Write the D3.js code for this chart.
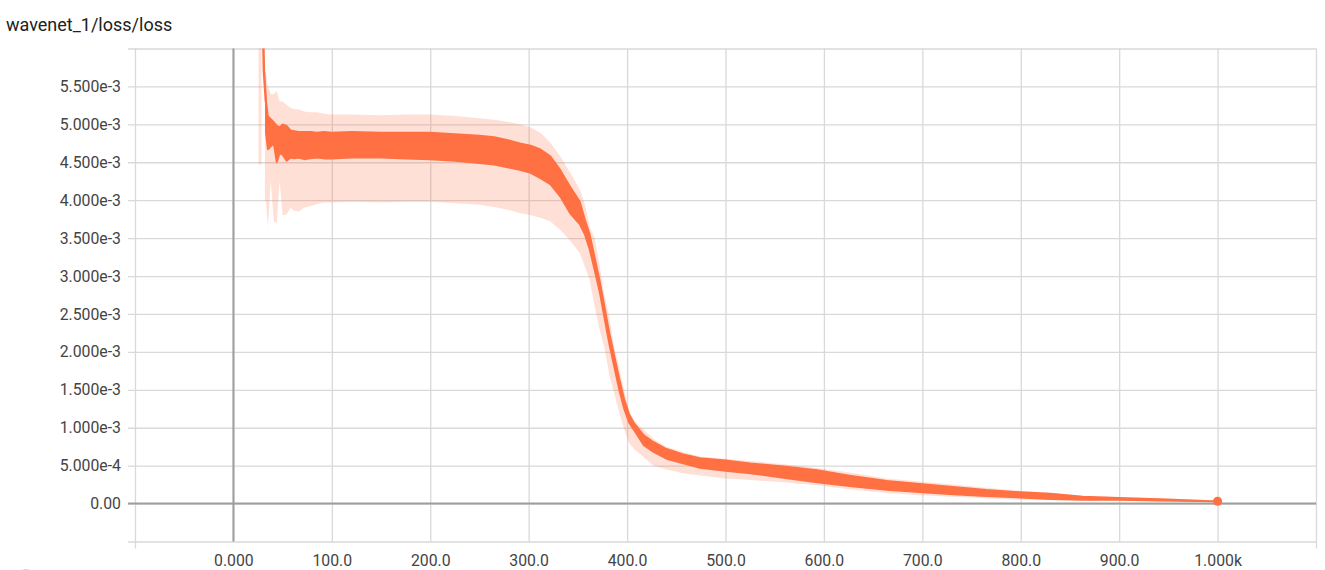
<!DOCTYPE html>
<html><head><meta charset="utf-8">
<script src="https://cdn.jsdelivr.net/npm/d3@7"></script>
<style>
html,body{margin:0;padding:0;background:#fff;overflow:hidden;}
svg{display:block;font-family:Roboto,"Noto Sans",sans-serif;}
</style></head><body>
<svg id="chart" width="1325" height="570"></svg>
<script>
// ---------- data ----------
const title = "wavenet_1/loss/loss";
const xTickValues = [0, 100, 200, 300, 400, 500, 600, 700, 800, 900, 1000];
const xTickLabels = ["0.000", "100.0", "200.0", "300.0", "400.0", "500.0", "600.0", "700.0", "800.0", "900.0", "1.000k"];
const xGridValues = [-100, 0, 100, 200, 300, 400, 500, 600, 700, 800, 900, 1000, 1100];
const yTickValues = [0, 0.0005, 0.001, 0.0015, 0.002, 0.0025, 0.003, 0.0035, 0.004, 0.0045, 0.005, 0.0055];
const yTickLabels = ["0.00", "5.000e-4", "1.000e-3", "1.500e-3", "2.000e-3", "2.500e-3", "3.000e-3", "3.500e-3", "4.000e-3", "4.500e-3", "5.000e-3", "5.500e-3"];
const yGridValues = [-0.0005, 0, 0.0005, 0.001, 0.0015, 0.002, 0.0025, 0.003, 0.0035, 0.004, 0.0045, 0.005, 0.0055, 0.006];

// raw (light) band envelope, values in units of 1e-3 (null = gap)
const rawSteps = [25.5, 28.5, 30, 32, 33, 35, 38, 41, 44, 47, 50, 54, 58, 62, 66, 72, 78, 85, 92, 100, 120, 150, 175, 200, 225, 250, 265, 280, 291, 302, 312, 322, 332, 342, 352, 357, 362, 367, 372, 377, 382, 387, 392, 397, 402, 407, 417, 427, 440, 457, 474, 500, 525, 559, 593, 626, 664, 697, 731, 765, 799, 830, 863, 900, 940, 1000];
const rawLoMilli = [4.47, 4.47, null, 3.99, 3.99, 3.65, 4.25, 3.72, 3.70, 4.25, 3.80, 3.81, 3.90, 3.86, 3.85, 3.90, 3.92, 3.95, 3.97, 3.97, 3.98, 3.97, 3.98, 3.98, 3.96, 3.94, 3.91, 3.87, 3.83, 3.80, 3.77, 3.72, 3.61, 3.47, 3.30, 3.13, 2.95, 2.60, 2.30, 2.05, 1.70, 1.45, 1.20, 0.98, 0.80, 0.72, 0.61, 0.50, 0.45, 0.40, 0.37, 0.33, 0.31, 0.28, 0.24, 0.19, 0.14, 0.11, 0.09, 0.07, 0.05, 0.05, 0.04, 0.04, 0.03, 0.02];
const rawHiMilli = [6.6, 6.6, null, 5.69, 5.69, 5.50, 5.40, 5.40, 5.44, 5.30, 5.30, 5.26, 5.22, 5.20, 5.20, 5.17, 5.16, 5.16, 5.14, 5.13, 5.13, 5.12, 5.13, 5.13, 5.11, 5.08, 5.06, 5.03, 5.00, 4.96, 4.89, 4.76, 4.58, 4.37, 4.14, 3.95, 3.65, 3.50, 3.15, 2.75, 2.45, 2.05, 1.80, 1.50, 1.22, 1.10, 0.97, 0.85, 0.75, 0.68, 0.62, 0.59, 0.56, 0.52, 0.47, 0.41, 0.33, 0.29, 0.25, 0.21, 0.17, 0.14, 0.10, 0.085, 0.07, 0.04];

// smoothed (dark) band envelope, values in units of 1e-3
const smoothSteps = [33, 35, 38, 41, 44, 47, 50, 54, 58, 62, 66, 72, 78, 85, 92, 100, 120, 150, 175, 200, 225, 250, 265, 280, 291, 302, 312, 322, 332, 342, 352, 357, 362, 367, 372, 377, 382, 387, 392, 397, 402, 407, 417, 427, 440, 457, 474, 500, 525, 559, 593, 626, 664, 697, 731, 765, 799, 830, 863, 900, 940, 1000];
const smoothLoMilli = [4.89, 4.67, 4.71, 4.75, 4.50, 4.62, 4.60, 4.52, 4.56, 4.55, 4.56, 4.54, 4.55, 4.56, 4.55, 4.55, 4.56, 4.56, 4.55, 4.54, 4.52, 4.49, 4.47, 4.43, 4.40, 4.36, 4.29, 4.21, 4.05, 3.83, 3.68, 3.55, 3.35, 3.08, 2.80, 2.45, 2.10, 1.80, 1.50, 1.25, 1.07, 0.97, 0.77, 0.68, 0.59, 0.53, 0.47, 0.43, 0.40, 0.34, 0.28, 0.23, 0.18, 0.15, 0.12, 0.10, 0.08, 0.06, 0.05, 0.05, 0.04, 0.03];
const smoothHiMilli = [5.33, 5.11, 5.07, 5.03, 4.98, 4.96, 5.00, 4.98, 4.92, 4.91, 4.90, 4.90, 4.90, 4.89, 4.90, 4.89, 4.90, 4.89, 4.89, 4.89, 4.87, 4.85, 4.83, 4.79, 4.75, 4.72, 4.67, 4.58, 4.40, 4.18, 3.98, 3.75, 3.55, 3.25, 2.95, 2.60, 2.25, 1.95, 1.65, 1.38, 1.18, 1.06, 0.90, 0.81, 0.72, 0.65, 0.60, 0.57, 0.53, 0.49, 0.44, 0.37, 0.30, 0.26, 0.22, 0.18, 0.15, 0.13, 0.09, 0.075, 0.06, 0.03];

// smoothed line entering from above the chart
const leadSteps = [27, 29, 31, 33];
const leadMilli = [8.2, 6.9, 5.7, 5.3];

const lastStep = 1000;
const lastMilli = 0.03;

// ---------- build ----------
const M = 1e-3;
const raw = rawSteps.map((s, i) => ({s, lo: rawLoMilli[i] == null ? null : rawLoMilli[i] * M, hi: rawHiMilli[i] == null ? null : rawHiMilli[i] * M}));
const smooth = smoothSteps.map((s, i) => ({s, lo: smoothLoMilli[i] * M, hi: smoothHiMilli[i] * M}));
const lead = leadSteps.map((s, i) => ({s, v: leadMilli[i] * M}));

const pL = 135, pR = 1316, pT = 48.5, pB = 541.5;
const svg = d3.select("#chart");

const x = d3.scaleLinear().domain([-100, 1100]).range([pL, pR]);
const y = d3.scaleLinear().domain([-0.0005, 0.006]).range([pB, pT]);

svg.append("defs").append("clipPath").attr("id", "clip")
  .append("rect").attr("x", pL).attr("y", pT).attr("width", pR - pL).attr("height", pB - pT);

// title
svg.append("text").attr("x", 6).attr("y", 31)
  .attr("font-size", 18).attr("fill", "#212121").text(title);

const gridColor = "#d9d9d9";
const labelColor = "#444";

// y grid via axis
const yAxis = d3.axisLeft(y).tickValues(yGridValues)
  .tickSizeInner(-(pR - 128)).tickSizeOuter(0).tickPadding(7)
  .tickFormat(d => {
    const i = yTickValues.findIndex(v => Math.abs(v - d) < 1e-9);
    return i >= 0 ? yTickLabels[i] : "";
  });
const gy = svg.append("g").attr("transform", "translate(128,0)").call(yAxis);
gy.select(".domain").remove();
gy.selectAll("line").attr("stroke", gridColor).attr("stroke-width", 1.3);
gy.selectAll("text").attr("font-size", 15.8).attr("fill", labelColor).attr("font-family", "Roboto, sans-serif");

// x grid via axis
const xAxis = d3.axisBottom(x).tickValues(xGridValues)
  .tickSizeInner(-(pB - pT)).tickSizeOuter(0).tickPadding(13)
  .tickFormat(d => {
    const i = xTickValues.indexOf(d);
    return i >= 0 ? xTickLabels[i] : "";
  });
const gx = svg.append("g").attr("transform", `translate(0,${pB})`).call(xAxis);
gx.select(".domain").remove();
gx.selectAll("line").attr("stroke", gridColor).attr("stroke-width", 1.3);
gx.selectAll("text").attr("font-size", 15.8).attr("fill", labelColor).attr("font-family", "Roboto, sans-serif");
// end ticks below the plot
gx.selectAll(".tick").filter(d => d === -100 || d === 1100)
  .append("line").attr("y1", 0).attr("y2", 7).attr("stroke", gridColor).attr("stroke-width", 1.3);

// zero lines on top of the grid
svg.append("line").attr("x1", 128).attr("x2", pR).attr("y1", y(0)).attr("y2", y(0))
  .attr("stroke", "#9e9e9e").attr("stroke-width", 2);
svg.append("line").attr("x1", x(0)).attr("x2", x(0)).attr("y1", pT).attr("y2", pB)
  .attr("stroke", "#9e9e9e").attr("stroke-width", 2);

const plot = svg.append("g").attr("clip-path", "url(#clip)");
const orange = "#ff7043";

// raw band
const rawArea = d3.area().defined(d => d.lo != null)
  .x(d => x(d.s)).y0(d => y(d.lo)).y1(d => y(d.hi));
plot.append("path").datum(raw).attr("d", rawArea)
  .attr("fill", orange).attr("fill-opacity", 0.22);

// smoothed band
const smArea = d3.area()
  .x(d => x(d.s)).y0(d => y(d.lo)).y1(d => y(d.hi));
plot.append("path").datum(smooth).attr("d", smArea)
  .attr("fill", orange).attr("stroke", orange).attr("stroke-width", 1.8)
  .attr("stroke-linejoin", "round");

// lead-in line
const leadLine = d3.line().x(d => x(d.s)).y(d => y(d.v));
plot.append("path").datum(lead).attr("d", leadLine)
  .attr("fill", "none").attr("stroke", orange).attr("stroke-width", 2.5);

// last point marker
svg.append("circle").attr("cx", x(lastStep)).attr("cy", y(lastMilli * M)).attr("r", 4.5)
  .attr("fill", orange);

// partially visible control at bottom-left
svg.append("circle").attr("cx", 26).attr("cy", 582).attr("r", 12)
  .attr("fill", "none").attr("stroke", "#c8c8c8").attr("stroke-width", 1.5);
</script>
</body></html>
